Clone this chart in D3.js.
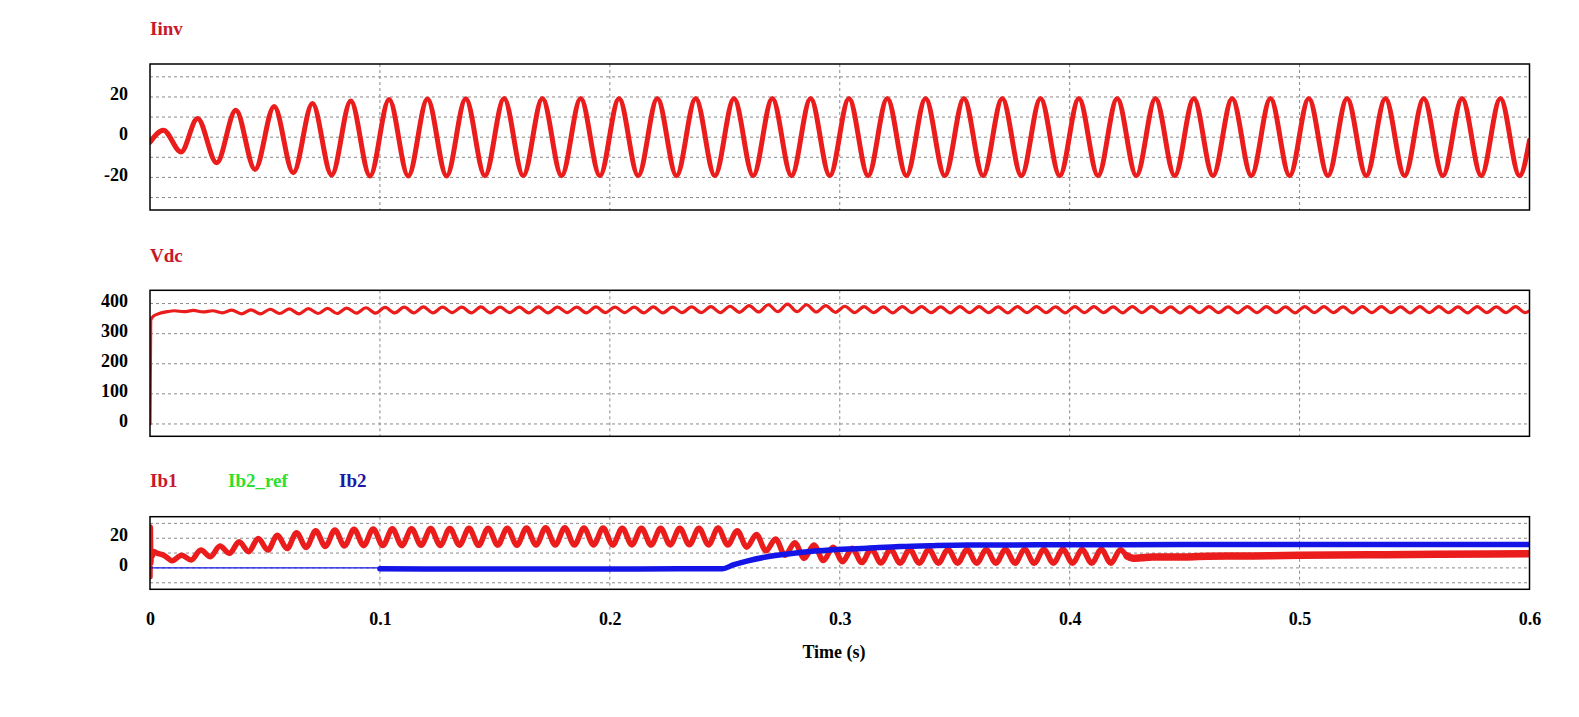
<!DOCTYPE html>
<html><head><meta charset="utf-8">
<script src="https://cdn.jsdelivr.net/npm/d3@7"></script>
<style>
body{margin:0;background:#fff}
svg{display:block}
text{font-family:"Liberation Serif","Times New Roman",serif;font-weight:bold}
</style>
</head><body>
<svg id="c" width="1579" height="717"></svg>
<script>
// ---------------- data (time in ms) ----------------
const xTicks = [0, 0.1, 0.2, 0.3, 0.4, 0.5, 0.6];
const iinvTicks = [-20, 0, 20];
const iinvGrid = [-30, -20, -10, 0, 10, 20, 30];
const vdcTicks = [0, 100, 200, 300, 400];
const ibTicks = [0, 20];
const ibGrid = [-10, 0, 10, 20, 30];

const iinvT = [0, 5.8, 13.5, 20.67, 29.0, 37.33, 45.67, 54.0, 62.33, 70.67, 79.0, 87.33, 95.67, 104.0, 112.33, 120.67, 129.0, 137.33, 145.67, 154.0, 162.33, 170.67, 179.0, 187.33, 195.67, 204.0, 212.33, 220.67, 229.0, 237.33, 245.67, 254.0, 262.33, 270.67, 279.0, 287.33, 295.67, 304.0, 312.33, 320.67, 329.0, 337.33, 345.67, 354.0, 362.33, 370.67, 379.0, 387.33, 395.67, 404.0, 412.33, 420.67, 429.0, 437.33, 445.67, 454.0, 462.33, 470.67, 479.0, 487.33, 495.67, 504.0, 512.33, 520.67, 529.0, 537.33, 545.67, 554.0, 562.33, 570.67, 579.0, 587.33, 595.67, 600];
const iinvV = [-2.5, 3.5, -7.3, 9.3, -12.7, 13.4, -16, 15.3, -17.7, 16.7, -18.8, 18, -19.3, 18.7, -19.3, 19, -19.3, 19.1,
 -19.2, 19.2, -19.2, 19.2, -19.2, 19.2, -19.2, 19.2, -19.2, 19.2, -19.2, 19.2, -19.2, 19.2, -19.2, 19.2, -19.2, 19.2, -19.2, 19.2,
 -19.2, 19.2, -19.2, 19.2, -19.2, 19.2, -19.2, 19.2, -19.2, 19.2, -19.2, 19.2, -19.2, 19.2, -19.2, 19.2, -19.2, 19.2, -19.2, 19.2,
 -19.2, 19.2, -19.2, 19.2, -19.2, 19.2, -19.2, 19.2, -19.2, 19.2, -19.2, 19.2, -19.2, 19.2, -19.2, -1.5];

const vdcT = [0, 0.3, 1.5, 4, 7.5,
 10.58, 14.75, 18.92, 23.08, 27.25, 31.42, 35.58, 39.75, 43.92, 48.08, 52.25, 56.42,
 60.58, 64.75, 68.92, 73.08, 77.25, 81.42, 85.58, 89.75, 93.92, 98.08, 102.25, 106.42,
 110.58, 114.75, 118.92, 123.08, 127.25, 131.42, 135.58, 139.75, 143.92, 148.08, 152.25, 156.42,
 160.58, 164.75, 168.92, 173.08, 177.25, 181.42, 185.58, 189.75, 193.92, 198.08, 202.25, 206.42,
 210.58, 214.75, 218.92, 223.08, 227.25, 231.42, 235.58, 239.75, 243.92, 248.08, 252.25, 256.42,
 260.58, 264.75, 268.92, 273.08, 277.25, 281.42, 285.58, 289.75, 293.92, 298.08, 302.25, 306.42,
 310.58, 314.75, 318.92, 323.08, 327.25, 331.42, 335.58, 339.75, 343.92, 348.08, 352.25, 356.42,
 360.58, 364.75, 368.92, 373.08, 377.25, 381.42, 385.58, 389.75, 393.92, 398.08, 402.25, 406.42,
 410.58, 414.75, 418.92, 423.08, 427.25, 431.42, 435.58, 439.75, 443.92, 448.08, 452.25, 456.42,
 460.58, 464.75, 468.92, 473.08, 477.25, 481.42, 485.58, 489.75, 493.92, 498.08, 502.25, 506.42,
 510.58, 514.75, 518.92, 523.08, 527.25, 531.42, 535.58, 539.75, 543.92, 548.08, 552.25, 556.42,
 560.58, 564.75, 568.92, 573.08, 577.25, 581.42, 585.58, 589.75, 593.92, 598.08, 600];
const vdcV = [0, 345, 358, 367, 373,
 376, 373, 377, 372, 376, 369, 378, 366, 379, 366, 381, 367,
 382, 366, 383, 367, 384, 367, 385, 368, 386, 368, 387, 369,
 388, 369, 389, 369, 388, 370, 388, 369, 389, 369, 388, 370,
 388, 369, 389, 369, 388, 370, 388, 369, 389, 370, 388, 370,
 388, 369, 389, 369, 388, 370, 389, 370, 390, 370, 391, 371,
 393, 372, 396, 373, 398, 373, 396, 372, 393, 371, 391, 370,
 390, 370, 389, 369, 390, 370, 390, 370, 389, 369, 390, 370,
 390, 370, 389, 369, 390, 370, 390, 370, 389, 369, 390, 370,
 390, 370, 389, 369, 390, 370, 390, 370, 389, 369, 390, 370,
 390, 370, 389, 369, 390, 370, 390, 370, 389, 369, 390, 370,
 390, 370, 389, 369, 390, 370, 390, 370, 389, 369, 390, 370,
 390, 370, 389, 369, 390, 370, 389, 370, 390, 370, 376];

const ib1T = [0, 0.15, 0.35, 0.6, 1.0, 1.5, 3, 5.5, 7,
 9.58, 13.75, 17.92, 22.08, 26.25, 30.42, 34.58, 38.75, 42.92, 47.08, 51.25, 55.42, 59.58, 63.75, 67.92, 72.08, 76.25, 80.42, 84.58, 88.75,
 92.92, 97.08, 101.25, 105.42, 109.58, 113.75, 117.92, 122.08, 126.25, 130.42, 134.58, 138.75, 142.92, 147.08, 151.25, 155.42, 159.58, 163.75, 167.92, 172.08,
 176.25, 180.42, 184.58, 188.75, 192.92, 197.08, 201.25, 205.42, 209.58, 213.75, 217.92, 222.08, 226.25, 230.42, 234.58, 238.75, 242.92, 247.08,
 251.25, 255.42, 259.58, 263.75, 267.92, 272.08, 276.25, 280.42, 284.58, 288.75, 292.92, 297.08, 301.25, 305.42, 309.58, 313.75,
 317.92, 322.08, 326.25, 330.42, 334.58, 338.75, 342.92, 347.08, 351.25, 355.42, 359.58, 363.75, 367.92, 372.08, 376.25, 380.42, 384.58, 388.75,
 392.92, 397.08, 401.25, 405.42, 409.58, 413.75, 417.92, 422.08,
 425, 427.5, 431, 436, 445, 460, 480, 500, 530, 560, 600];
const ib1V = [-6, 27.5, 3, 12, 8, 11, 10, 8.8, 7.5,
 4.8, 8.6, 5.3, 12, 7.5, 14.7, 9.8, 17.6, 10.9, 19.9, 12, 22, 13, 23.7, 13.8, 25, 14.5, 25.5, 14.8, 26,
 15, 26.2, 15.1, 26.3, 15, 26.4, 15.2, 26.5, 15.1, 26.6, 15.3, 26.7, 15.2, 26.8, 15.4, 26.8, 15.3, 26.9, 15.4, 27,
 15.5, 27, 15.4, 26.9, 15.5, 26.9, 15.4, 26.8, 15.5, 26.8, 15.4, 26.7, 15.5, 26.7, 15.6, 26.8, 15.5, 26.9,
 15.5, 25, 14, 22.5, 11.5, 19.5, 8.5, 17, 6.5, 15.5, 5, 14, 4.2, 13.2, 3.6, 12.8,
 3.3, 12.6, 3.2, 12.5, 3.1, 12.5, 3.2, 12.6, 3.2, 12.5, 3.1, 12.4, 3.2, 12.5, 3.2, 12.6, 3.1, 12.5,
 3.2, 12.5, 3.2, 12.4, 3.1, 12.5, 3.2, 12.2,
 8, 6.5, 6.8, 7.4, 7.3, 7.8, 8.1, 8.5, 8.8, 9.2, 9.6];

const ib2PreT = [0, 100];
const ib2PreV = [0, 0];
const ib2T = [100, 130, 160, 200, 230, 249, 253.6, 260, 268.4, 282.7, 297, 311.9, 326.2, 340.6, 355.4, 400, 450, 500, 600];
const ib2V = [-0.6, -0.8, -0.7, -0.8, -0.6, -0.6, 2, 4.8, 7.5, 10.4, 12.2, 13.3, 14.4, 15, 15.4, 15.6, 15.7, 15.7, 15.8];
const ib2RefT = [100, 249, 253.6, 268.4, 282.7, 297, 311.9, 326.2, 340.6, 355.4, 400, 600];
const ib2RefV = [-0.6, -0.6, 2, 7.5, 10.4, 12.2, 13.3, 14.4, 15, 15.4, 15.6, 15.8];

const zip = (T, V) => T.map((t, i) => [t / 1000, V[i]]);

// ---------------- drawing ----------------
const svg = d3.select("#c");
const x = d3.scaleLinear().domain([0, 0.6]).range([150, 1529.5]);
const RED = "#ea1c1c", BLUE = "#1414e6", TITLE_RED = "#c8182a";
const FONT = '"Liberation Serif","Times New Roman",serif';

const panels = [
  {top: 64, bottom: 210, domain: [-36.2, 36.4], grid: iinvGrid, ticks: iinvTicks},
  {top: 290.3, bottom: 436.3, domain: [-41, 444], grid: vdcTicks, ticks: vdcTicks},
  {top: 516.7, bottom: 589.3, domain: [-14.4, 34.5], grid: ibGrid, ticks: ibTicks}
];

panels.forEach((p, i) => {
  p.y = d3.scaleLinear().domain(p.domain).range([p.bottom, p.top]);
  p.g = svg.append("g");
  svg.append("clipPath").attr("id", "clip" + i).append("rect")
    .attr("x", x(0)).attr("y", p.top).attr("width", x(0.6) - x(0)).attr("height", p.bottom - p.top);
  p.g.selectAll(".hg").data(p.grid).enter().append("line")
    .attr("x1", x(0)).attr("x2", x(0.6)).attr("y1", d => p.y(d)).attr("y2", d => p.y(d))
    .attr("stroke", "#8a8a8a").attr("stroke-width", 1).attr("stroke-dasharray", "3,3");
  p.g.selectAll(".vg").data(xTicks.slice(1, -1)).enter().append("line")
    .attr("x1", d => x(d)).attr("x2", d => x(d)).attr("y1", p.top).attr("y2", p.bottom)
    .attr("stroke", "#8a8a8a").attr("stroke-width", 1).attr("stroke-dasharray", "3,3");
  const ax = p.g.append("g").attr("transform", `translate(${x(0)},0)`)
    .call(d3.axisLeft(p.y).tickValues(p.ticks).tickSize(0).tickPadding(22)
      .tickFormat(d => String(d)));
  ax.select(".domain").remove();
  ax.selectAll("text").attr("dy", "0.15em").attr("font-size", 18).attr("fill", "#000")
    .style("font-family", FONT).style("font-weight", "bold");
  p.lines = svg.append("g").attr("clip-path", `url(#clip${i})`);
});

function drawLine(p, data, color, width) {
  const line = d3.line().x(d => x(d[0])).y(d => p.y(d[1])).curve(d3.curveMonotoneX);
  p.lines.append("path").datum(data).attr("d", line)
    .attr("fill", "none").attr("stroke", color).attr("stroke-width", width)
    .attr("stroke-linejoin", "round").attr("stroke-linecap", "round");
}

drawLine(panels[0], zip(iinvT, iinvV), RED, 5);
drawLine(panels[1], zip(vdcT, vdcV), RED, 3.2);
const ib1 = zip(ib1T, ib1V);
drawLine(panels[2], ib1, RED, 5.5);
drawLine(panels[2], ib1.filter(d => d[0] >= 0.4235), RED, 7.5);
drawLine(panels[2], zip(ib2RefT, ib2RefV), "#22dd22", 2);
drawLine(panels[2], zip(ib2PreT, ib2PreV), BLUE, 1.2);
drawLine(panels[2], zip(ib2T, ib2V), BLUE, 5.5);

panels.forEach(p => {
  svg.append("rect").attr("x", x(0)).attr("y", p.top).attr("width", x(0.6) - x(0)).attr("height", p.bottom - p.top)
    .attr("fill", "none").attr("stroke", "#000").attr("stroke-width", 1.5);
});

const xa = svg.append("g").attr("transform", `translate(0,${panels[2].bottom})`)
  .call(d3.axisBottom(x).tickValues(xTicks).tickSize(0).tickPadding(22.5)
    .tickFormat(d => d === 0 ? "0" : d3.format(".1f")(d)));
xa.select(".domain").remove();
xa.selectAll("text").attr("font-size", 18).attr("fill", "#000")
  .style("font-family", FONT).style("font-weight", "bold");

svg.append("text").attr("x", 834).attr("y", 658).attr("text-anchor", "middle")
  .attr("font-size", 18).attr("fill", "#000").text("Time (s)");

const titles = [
  {t: "Iinv", x: 150, y: 34.5, c: TITLE_RED},
  {t: "Vdc", x: 150, y: 261.5, c: TITLE_RED},
  {t: "Ib1", x: 150, y: 487, c: TITLE_RED},
  {t: "Ib2_ref", x: 228, y: 487, c: "#2ee02e"},
  {t: "Ib2", x: 339, y: 487, c: "#1a1aa6"}
];
svg.selectAll(".title").data(titles).enter().append("text")
  .attr("x", d => d.x).attr("y", d => d.y).attr("fill", d => d.c)
  .attr("font-size", 19).text(d => d.t);
</script>
</body></html>
